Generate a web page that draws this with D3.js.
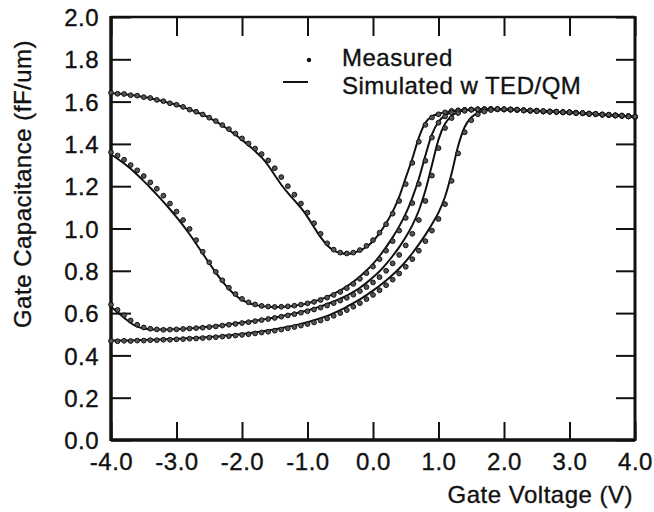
<!DOCTYPE html>
<html><head><meta charset="utf-8">
<script src="https://cdn.jsdelivr.net/npm/d3@7"></script>
<style>
html,body{margin:0;padding:0;background:#fff;}
text{font-family:"Liberation Sans",Arial,Helvetica,sans-serif;fill:#111;}
</style></head>
<body>
<svg id="chart" width="654" height="512"></svg>
<script>
const voltage = [
-4.0,-3.9,-3.8,-3.7,-3.6,-3.5,-3.4,-3.3,-3.2,-3.1,
-3.0,-2.9,-2.8,-2.7,-2.6,-2.5,-2.4,-2.3,-2.2,-2.1,
-2.0,-1.9,-1.8,-1.7,-1.6,-1.5,-1.4,-1.3,-1.2,-1.1,
-1.0,-0.9,-0.8,-0.7,-0.6,-0.5,-0.4,-0.3,-0.2,-0.1,
0.0,0.1,0.2,0.3,0.4,0.5,0.6,0.7,0.8,0.9,
1.0,1.1,1.2,1.3,1.4,1.5,1.6,1.7,1.8,1.9,
2.0,2.1,2.2,2.3,2.4,2.5,2.6,2.7,2.8,2.9,
3.0,3.1,3.2,3.3,3.4,3.5,3.6,3.7,3.8,3.9,
4.0];

const simA = [
1.640,1.638,1.635,1.631,1.627,1.622,1.616,1.609,1.601,1.593,
1.584,1.574,1.563,1.551,1.538,1.523,1.506,1.487,1.466,1.443,
1.419,1.393,1.366,1.336,1.298,1.252,1.207,1.168,1.133,1.097,
1.055,1.006,0.959,0.921,0.896,0.884,0.880,0.884,0.895,0.914,
0.940,0.978,1.025,1.080,1.150,1.240,1.330,1.430,1.500,1.530,
1.543,1.550,1.555,1.558,1.560,1.562,1.563,1.564,1.564,1.564,
1.563,1.562,1.561,1.559,1.557,1.556,1.554,1.553,1.552,1.550,
1.549,1.547,1.545,1.543,1.541,1.539,1.537,1.535,1.533,1.531,
1.528];
const measA = [
1.642,1.637,1.636,1.630,1.628,1.621,1.617,1.608,1.602,1.592,
1.585,1.575,1.562,1.552,1.539,1.524,1.508,1.489,1.470,1.449,
1.426,1.402,1.378,1.352,1.322,1.285,1.243,1.200,1.160,1.118,
1.075,1.025,0.975,0.930,0.900,0.886,0.882,0.886,0.898,0.918,
0.945,0.980,1.020,1.070,1.130,1.210,1.310,1.410,1.490,1.525,
1.540,1.549,1.556,1.559,1.561,1.562,1.564,1.563,1.565,1.564,
1.562,1.563,1.560,1.560,1.556,1.557,1.553,1.554,1.551,1.551,
1.548,1.548,1.544,1.544,1.540,1.540,1.536,1.536,1.532,1.532,
1.527];

const simB = [
1.350,1.330,1.307,1.282,1.254,1.224,1.193,1.160,1.126,1.091,
1.054,1.015,0.973,0.928,0.882,0.836,0.791,0.750,0.714,0.684,
0.662,0.648,0.639,0.633,0.630,0.629,0.629,0.631,0.635,0.640,
0.647,0.655,0.665,0.677,0.691,0.707,0.726,0.748,0.773,0.801,
0.833,0.870,0.912,0.958,1.010,1.070,1.145,1.235,1.345,1.445,
1.505,1.535,1.550,1.558,1.560,1.562,1.563,1.564,1.564,1.564,
1.563,1.562,1.561,1.559,1.557,1.556,1.554,1.553,1.552,1.550,
1.549,1.547,1.545,1.543,1.541,1.539,1.537,1.535,1.533,1.531,
1.528];
const measB = [
1.360,1.345,1.325,1.300,1.275,1.248,1.218,1.188,1.155,1.118,
1.080,1.040,0.998,0.945,0.890,0.840,0.795,0.755,0.720,0.690,
0.667,0.651,0.641,0.634,0.631,0.629,0.630,0.632,0.635,0.640,
0.646,0.653,0.662,0.673,0.686,0.700,0.718,0.738,0.762,0.789,
0.820,0.855,0.895,0.940,0.990,1.050,1.120,1.210,1.320,1.430,
1.500,1.530,1.548,1.556,1.560,1.563,1.562,1.565,1.563,1.565,
1.564,1.561,1.562,1.558,1.558,1.555,1.555,1.552,1.553,1.549,
1.550,1.546,1.546,1.542,1.542,1.538,1.538,1.534,1.534,1.530,
1.529];

const simC = [
0.630,0.604,0.578,0.553,0.536,0.527,0.523,0.522,0.522,0.523,
0.524,0.526,0.528,0.530,0.533,0.536,0.539,0.543,0.547,0.551,
0.555,0.559,0.564,0.569,0.574,0.579,0.585,0.591,0.598,0.605,
0.613,0.622,0.632,0.643,0.655,0.668,0.683,0.700,0.720,0.743,
0.769,0.798,0.832,0.870,0.912,0.960,1.015,1.085,1.180,1.300,
1.420,1.495,1.532,1.550,1.558,1.562,1.563,1.564,1.564,1.564,
1.563,1.562,1.561,1.559,1.557,1.556,1.554,1.553,1.552,1.550,
1.549,1.547,1.545,1.543,1.541,1.539,1.537,1.535,1.533,1.531,
1.528];
const measC = [
0.640,0.615,0.590,0.565,0.545,0.532,0.526,0.523,0.521,0.522,
0.523,0.525,0.527,0.529,0.531,0.534,0.537,0.541,0.545,0.549,
0.553,0.557,0.562,0.567,0.572,0.577,0.583,0.589,0.595,0.602,
0.609,0.617,0.626,0.636,0.647,0.659,0.672,0.687,0.704,0.723,
0.745,0.770,0.800,0.835,0.875,0.920,0.975,1.040,1.130,1.250,
1.380,1.475,1.522,1.546,1.556,1.561,1.563,1.563,1.565,1.563,
1.563,1.563,1.561,1.559,1.557,1.557,1.553,1.553,1.551,1.550,
1.549,1.546,1.545,1.542,1.541,1.538,1.537,1.534,1.533,1.530,
1.528];

const simD = [
0.470,0.470,0.471,0.471,0.472,0.473,0.474,0.475,0.476,0.477,
0.478,0.480,0.481,0.483,0.485,0.487,0.489,0.492,0.495,0.498,
0.501,0.505,0.509,0.513,0.518,0.523,0.529,0.535,0.542,0.549,
0.557,0.566,0.576,0.587,0.600,0.614,0.630,0.647,0.665,0.685,
0.706,0.729,0.754,0.781,0.811,0.845,0.883,0.925,0.970,1.020,
1.075,1.150,1.260,1.390,1.480,1.525,1.546,1.556,1.562,1.564,
1.563,1.562,1.561,1.559,1.557,1.556,1.554,1.553,1.552,1.550,
1.549,1.547,1.545,1.543,1.541,1.539,1.537,1.535,1.533,1.531,
1.528];
const measD = [
0.468,0.467,0.469,0.468,0.470,0.470,0.472,0.472,0.474,0.474,
0.476,0.477,0.479,0.480,0.482,0.484,0.486,0.489,0.491,0.494,
0.497,0.500,0.504,0.508,0.512,0.517,0.522,0.528,0.534,0.541,
0.548,0.556,0.565,0.575,0.587,0.600,0.614,0.630,0.647,0.666,
0.686,0.708,0.732,0.758,0.787,0.819,0.855,0.895,0.940,0.990,
1.045,1.115,1.225,1.355,1.455,1.512,1.540,1.553,1.560,1.565,
1.564,1.562,1.562,1.558,1.558,1.555,1.555,1.552,1.552,1.549,
1.550,1.546,1.546,1.542,1.542,1.538,1.538,1.534,1.534,1.530,
1.529];

const xTicks = [-4.0,-3.0,-2.0,-1.0,0.0,1.0,2.0,3.0,4.0];
const yTicks = [0.0,0.2,0.4,0.6,0.8,1.0,1.2,1.4,1.6,1.8,2.0];
const xTitle = "Gate Voltage (V)";
const yTitle = "Gate Capacitance (fF/um)";
const legendLabels = ["Measured","Simulated w TED/QM"];

const simSeries = [simA, simB, simC, simD];
const measSeries = [measA, measB, measC, measD];

const svg = d3.select("#chart");
const L = 111, R = 635, T = 17, B = 440;
const x = d3.scaleLinear().domain([-4,4]).range([L,R]);
const y = d3.scaleLinear().domain([0,2]).range([B,T]);
const fmt = d => d.toFixed(1);
const FS = 24;
function styleText(sel){
  sel.attr("font-size",FS).attr("fill","#111").attr("stroke","#111").attr("stroke-width",0.35)
     .attr("letter-spacing","0.5px").attr("font-family",'"Liberation Sans",Arial,sans-serif');
}

// axes with inward ticks
const gy = svg.append("g").attr("transform",`translate(${L},0)`)
  .call(d3.axisLeft(y).tickValues(yTicks).tickFormat(fmt).tickSize(-20).tickPadding(12));
const gyr = svg.append("g").attr("transform",`translate(${R},0)`)
  .call(d3.axisRight(y).tickValues(yTicks).tickFormat("").tickSize(-19));
const gx = svg.append("g").attr("transform",`translate(0,${B})`)
  .call(d3.axisBottom(x).tickValues(xTicks).tickFormat(fmt).tickSize(-18).tickPadding(13));
const gxt = svg.append("g").attr("transform",`translate(0,${T})`)
  .call(d3.axisTop(x).tickValues(xTicks).tickFormat("").tickSize(-19));
[gy,gyr,gx,gxt].forEach(g=>{
  g.select(".domain").remove();
  g.selectAll(".tick line").attr("stroke","#111").attr("stroke-width",2);
  styleText(g.selectAll(".tick text"));
});
gy.selectAll(".tick text").attr("dy","0.36em");

// frame
svg.append("line").attr("x1",L).attr("x2",L).attr("y1",T-1).attr("y2",B+1).attr("stroke","#111").attr("stroke-width",3.5);
svg.append("line").attr("x1",L).attr("x2",R).attr("y1",B).attr("y2",B).attr("stroke","#111").attr("stroke-width",3.5);
svg.append("line").attr("x1",L).attr("x2",R).attr("y1",T).attr("y2",T).attr("stroke","#111").attr("stroke-width",2.5);
svg.append("line").attr("x1",R).attr("x2",R).attr("y1",T-1).attr("y2",B+1).attr("stroke","#111").attr("stroke-width",3);

// simulated lines
const line = d3.line().x((d,i)=>x(voltage[i])).y(d=>y(d)).curve(d3.curveMonotoneX);
svg.append("g").selectAll("path").data(simSeries).join("path")
  .attr("d",line).attr("fill","none").attr("stroke","#111").attr("stroke-width",2);

// measured dots
const dots = svg.append("g");
measSeries.forEach(s=>{
  dots.selectAll(null).data(s).join("circle")
    .attr("cx",(d,i)=>x(voltage[i])).attr("cy",d=>y(d)).attr("r",2.4)
    .attr("fill","#555").attr("stroke","#111").attr("stroke-width",1);
});

// legend
svg.append("circle").attr("cx",309).attr("cy",60).attr("r",2.2).attr("fill","#111");
styleText(svg.append("text").attr("x",342).attr("y",66).text(legendLabels[0]));
svg.append("line").attr("x1",283).attr("x2",308).attr("y1",82).attr("y2",82).attr("stroke","#111").attr("stroke-width",2);
styleText(svg.append("text").attr("x",342).attr("y",94).text(legendLabels[1]));

// axis titles
styleText(svg.append("text").attr("x",633).attr("y",503).attr("text-anchor","end").text(xTitle));
styleText(svg.append("text").attr("transform","translate(31,184) rotate(-90)").attr("text-anchor","middle").text(yTitle));
</script>
</body></html>
